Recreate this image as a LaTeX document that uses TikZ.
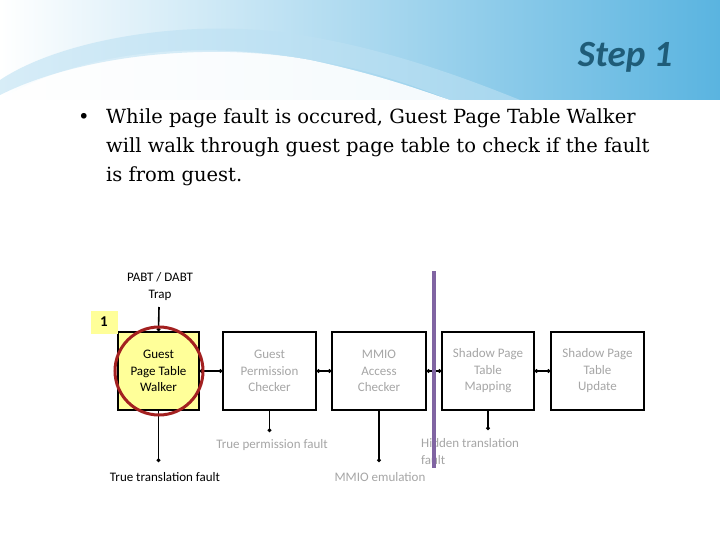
\documentclass[tikz,border=0pt]{standalone}
\usepackage{fontspec}
\setmainfont{Carlito}
\newfontfamily\bodyfont{DejaVu Serif}
\usetikzlibrary{arrows.meta}
\definecolor{titlec}{HTML}{1F5C78}
\definecolor{grayt}{HTML}{A6A6A6}
\definecolor{boxy}{HTML}{FFFF99}
\definecolor{redc}{HTML}{A32020}
\definecolor{purp}{HTML}{8064A2}
\definecolor{sky}{HTML}{5AB4E0}
\tikzset{
 stepbox/.style={draw,line width=1.6pt,minimum width=#1,minimum height=78pt,align=center,font=\fontsize{13}{16.5}\selectfont,text=grayt,inner sep=0pt},
 conn/.style={line width=1.6pt,{Circle[length=3.5pt]}-{Circle[length=3.5pt]}},
 drop/.style={line width=1.6pt,-{Circle[length=3.5pt]}},
 lab/.style={font=\fontsize{13}{17}\selectfont,text=grayt,align=left,inner sep=0pt}
}
\begin{document}
\begin{tikzpicture}[x=1pt,y=-1pt]
\useasboundingbox (0,0) rectangle (720,540);
\fill[white] (0,0) rectangle (720,540);
% header
\shade[left color=white,right color=sky] (0,0) rectangle (720,100);
\fill[white,opacity=0.9] (0,100) .. controls (80,50) and (200,40) .. (310,60) .. controls (380,75) and (420,90) .. (450,100) -- cycle;
\fill[sky!40,opacity=0.6] (0,80) .. controls (60,40) and (180,20) .. (280,32) .. controls (380,45) and (470,80) .. (520,100) -- (450,100) .. controls (400,80) and (330,55) .. (230,52) .. controls (130,50) and (50,70) .. (0,95) -- cycle;
\node[font=\fontsize{37}{40}\selectfont\bfseries\itshape,text=titlec,anchor=east] (title) at (676,57) {Step 1};
\node[anchor=north west,align=left,font=\bodyfont\fontsize{19.5}{29}\selectfont,inner sep=0pt] (bul) at (78,108)
 {\makebox[28pt][l]{\textbullet}While page fault is occured, Guest Page Table Walker\\\hspace*{28pt}will walk through guest page table to check if the fault\\\hspace*{28pt}is from guest.};
% boxes
\node[stepbox=81pt,fill=boxy,text=black] (b1) at (158.5,371) {Guest\\Page Table\\Walker};
\node[stepbox=93pt] (b2) at (269.5,371) {Guest\\Permission\\Checker};
\node[stepbox=94pt] (b3) at (379,371) {MMIO\\Access\\Checker};
\node[stepbox=92pt] (b4) at (488,371) {Shadow Page\\Table\\Mapping};
\node[stepbox=93pt] (b5) at (597.5,371) {Shadow Page\\Table\\Update};
\draw[conn] (b1) -- (b2);
\draw[conn] (b2) -- (b3);
\draw[conn] (b3) -- (b4);
\draw[conn] (b4) -- (b5);
% trap
\node[font=\fontsize{13}{17}\selectfont,align=center,inner sep=0pt] (trap) at (160,287) {PABT / DABT\\Trap};
\coordinate (tt) at (159,307);
\draw[drop] (tt) -- (b1.north);
\node[fill=boxy,minimum width=27pt,minimum height=23pt,inner sep=0pt,font=\fontsize{15}{16}\selectfont\bfseries] (one) at (104,322) {1};
% drops
\coordinate (d1) at (158.5,462); \draw[drop] (b1.south) -- (d1);
\coordinate (d2) at (269.5,432); \draw[drop] (b2.south) -- (d2);
\coordinate (d3) at (379,462); \draw[drop] (b3.south) -- (d3);
\coordinate (d4) at (488,430); \draw[drop] (b4.south) -- (d4);
\node[lab,text=black] (l1) at (165,477) {True translation fault};
\node[lab] (l2) at (272,445) {True permission fault};
\node[lab] (l3) at (380,477) {MMIO emulation};
\node[lab,anchor=north west] (l4) at (421,438) {Hidden translation\\fault};
\draw[purp,line width=4pt] (433.5,271) -- (433.5,468);
\node[draw=redc,line width=3pt,circle,minimum size=88pt] (ring) at (159,371) {};
\end{tikzpicture}
\end{document}
